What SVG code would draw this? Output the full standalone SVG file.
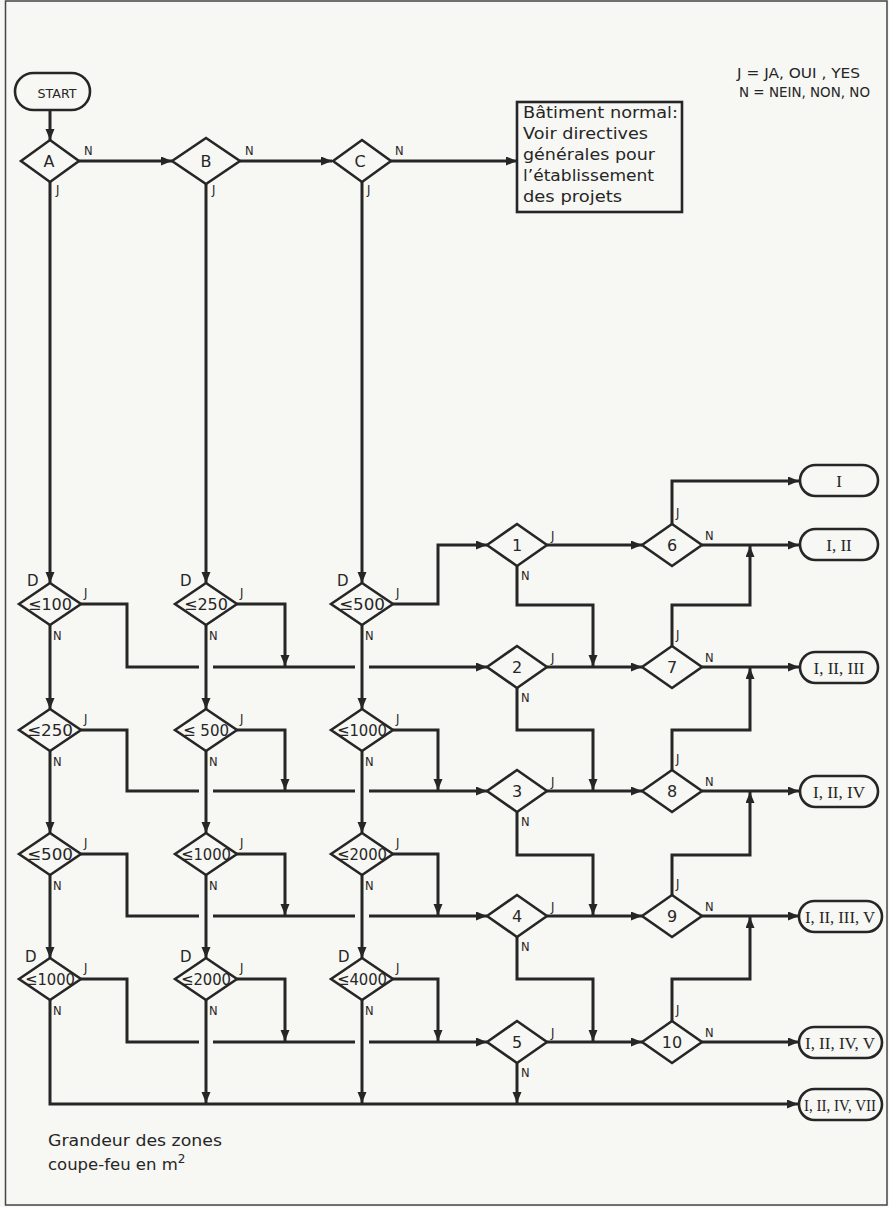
<svg xmlns="http://www.w3.org/2000/svg" width="889" height="1207" viewBox="0 0 889 1207">
<style>
.bg{fill:#f7f7f4}
.frame{fill:none;stroke:#444;stroke-width:1.5}
.shape{fill:#f7f7f4;stroke:#262626;stroke-width:2.6;stroke-linejoin:miter}
.conn path{fill:none;stroke:#262626;stroke-width:3;stroke-linejoin:miter}
.t{font-family:"DejaVu Sans","Liberation Sans",sans-serif;fill:#262626}
.yn{font-family:"DejaVu Sans","Liberation Sans",sans-serif;font-size:11.5px;fill:#262626}
.dt{font-family:"DejaVu Sans","Liberation Sans",sans-serif;font-size:16px;fill:#262626;text-anchor:middle}
.rn{font-family:"Liberation Serif",serif;font-size:17px;fill:#262626;text-anchor:middle}
</style>
<defs>
<marker id="ah" markerUnits="userSpaceOnUse" markerWidth="12" markerHeight="10" refX="11" refY="4.5" orient="auto">
<path d="M0,0 L11,4.5 L0,9 z" fill="#262626"/>
</marker>
</defs>
<rect class="bg" x="0" y="0" width="889" height="1207"/>
<rect class="frame" x="5.5" y="1" width="881.5" height="1204"/>

<g id="connectors" class="conn">
<path d="M50,110 V140" marker-end="url(#ah)"/>
<path d="M79,161 H172" marker-end="url(#ah)"/>
<path d="M240,161 H332" marker-end="url(#ah)"/>
<path d="M391,161 H517" marker-end="url(#ah)"/>
<path d="M50,182 V583" marker-end="url(#ah)"/>
<path d="M206,184 V583" marker-end="url(#ah)"/>
<path d="M362,182 V583" marker-end="url(#ah)"/>
<path d="M50,625 V709" marker-end="url(#ah)"/>
<path d="M206,625 V709" marker-end="url(#ah)"/>
<path d="M362,625 V709" marker-end="url(#ah)"/>
<path d="M50,751 V833" marker-end="url(#ah)"/>
<path d="M206,751 V833" marker-end="url(#ah)"/>
<path d="M362,751 V833" marker-end="url(#ah)"/>
<path d="M50,875 V958" marker-end="url(#ah)"/>
<path d="M206,875 V958" marker-end="url(#ah)"/>
<path d="M362,875 V958" marker-end="url(#ah)"/>
<path d="M50,1000 V1104 H798" marker-end="url(#ah)"/>
<path d="M206,1000 V1103" marker-end="url(#ah)"/>
<path d="M362,1000 V1103" marker-end="url(#ah)"/>
<!-- row 1 -->
<path d="M81,604 H127 V667 H199"/>
<path d="M213,667 H355"/>
<path d="M369,667 H487" marker-end="url(#ah)"/>
<path d="M237,604 H285 V666" marker-end="url(#ah)"/>
<path d="M393,604 H438 V545 H487" marker-end="url(#ah)"/>
<!-- row 2 -->
<path d="M81,730 H127 V791 H199"/>
<path d="M213,791 H355"/>
<path d="M369,791 H487" marker-end="url(#ah)"/>
<path d="M237,730 H285 V790" marker-end="url(#ah)"/>
<path d="M393,730 H438 V790" marker-end="url(#ah)"/>
<!-- row 3 -->
<path d="M81,854 H127 V916 H199"/>
<path d="M213,916 H355"/>
<path d="M369,916 H487" marker-end="url(#ah)"/>
<path d="M237,854 H285 V915" marker-end="url(#ah)"/>
<path d="M393,854 H438 V915" marker-end="url(#ah)"/>
<!-- row 4 -->
<path d="M81,979 H127 V1042 H199"/>
<path d="M213,1042 H355"/>
<path d="M369,1042 H487" marker-end="url(#ah)"/>
<path d="M237,979 H285 V1041" marker-end="url(#ah)"/>
<path d="M393,979 H438 V1041" marker-end="url(#ah)"/>
<!-- diamonds 1-5 -->
<path d="M547,545 H642" marker-end="url(#ah)"/>
<path d="M517,566 V605 H593 V666" marker-end="url(#ah)"/>
<path d="M547,667 H642" marker-end="url(#ah)"/>
<path d="M517,688 V730 H593 V790" marker-end="url(#ah)"/>
<path d="M547,791 H642" marker-end="url(#ah)"/>
<path d="M517,812 V855 H593 V915" marker-end="url(#ah)"/>
<path d="M547,916 H642" marker-end="url(#ah)"/>
<path d="M517,937 V979 H593 V1041" marker-end="url(#ah)"/>
<path d="M547,1042 H642" marker-end="url(#ah)"/>
<path d="M517,1063 V1103" marker-end="url(#ah)"/>
<!-- diamonds 6-10 -->
<path d="M672,524 V481 H799" marker-end="url(#ah)"/>
<path d="M702,545 H799" marker-end="url(#ah)"/>
<path d="M672,646 V605 H750 V546" marker-end="url(#ah)"/>
<path d="M702,667 H799" marker-end="url(#ah)"/>
<path d="M672,770 V730 H750 V668" marker-end="url(#ah)"/>
<path d="M702,791 H799" marker-end="url(#ah)"/>
<path d="M672,895 V855 H750 V792" marker-end="url(#ah)"/>
<path d="M702,916 H799" marker-end="url(#ah)"/>
<path d="M672,1021 V979 H750 V917" marker-end="url(#ah)"/>
<path d="M702,1042 H799" marker-end="url(#ah)"/>
</g>

<g id="start"><rect class="shape" x="15" y="73" width="75" height="37" rx="18.5"/><text class="t" x="57" y="98" font-size="12.5" text-anchor="middle" textLength="39" lengthAdjust="spacingAndGlyphs">START</text></g>

<g id="A"><polygon class="shape" points="21,161 50,140 79,161 50,182"/><text class="dt" x="49" y="167">A</text><text class="yn" x="84" y="155">N</text><text class="yn" x="56" y="194">J</text></g>
<g id="B"><polygon class="shape" points="172,161 206,138 240,161 206,184"/><text class="dt" x="206" y="167">B</text><text class="yn" x="245" y="155">N</text><text class="yn" x="212" y="194">J</text></g>
<g id="C"><polygon class="shape" points="333,161 362,140 391,161 362,182"/><text class="dt" x="360" y="167">C</text><text class="yn" x="395" y="155">N</text><text class="yn" x="367" y="194">J</text></g>

<g id="box"><rect class="shape" x="517" y="102" width="165" height="110"/>
<text class="t" font-size="16.5"><tspan x="523" y="118" textLength="155" lengthAdjust="spacingAndGlyphs">Bâtiment normal:</tspan><tspan x="523" y="139" textLength="125" lengthAdjust="spacingAndGlyphs">Voir directives</tspan><tspan x="523" y="160" textLength="132" lengthAdjust="spacingAndGlyphs">générales pour</tspan><tspan x="523" y="181" textLength="131" lengthAdjust="spacingAndGlyphs">l’établissement</tspan><tspan x="523" y="202" textLength="99" lengthAdjust="spacingAndGlyphs">des projets</tspan></text></g>

<g id="legend"><text class="t" font-size="14.5"><tspan x="737" y="78" textLength="123" lengthAdjust="spacingAndGlyphs">J = JA, OUI , YES</tspan><tspan x="739" y="97" textLength="131" lengthAdjust="spacingAndGlyphs">N = NEIN, NON, NO</tspan></text></g>

<!-- column diamonds -->
<g id="d11"><polygon class="shape" points="19,604 50,583 81,604 50,625"/><text class="dt" x="50" y="610" textLength="44" lengthAdjust="spacingAndGlyphs">≤100</text><text class="t" x="27" y="586" font-size="15">D</text><text class="yn" x="84" y="597">J</text><text class="yn" x="53" y="640">N</text></g>
<g id="d12"><polygon class="shape" points="175,604 206,583 237,604 206,625"/><text class="dt" x="206" y="610" textLength="44" lengthAdjust="spacingAndGlyphs">≤250</text><text class="t" x="180" y="586" font-size="15">D</text><text class="yn" x="240" y="597">J</text><text class="yn" x="209" y="640">N</text></g>
<g id="d13"><polygon class="shape" points="331,604 362,583 393,604 362,625"/><text class="dt" x="362" y="610" textLength="46" lengthAdjust="spacingAndGlyphs">≤500</text><text class="t" x="337" y="586" font-size="15">D</text><text class="yn" x="396" y="597">J</text><text class="yn" x="365" y="640">N</text></g>

<g id="d21"><polygon class="shape" points="19,730 50,709 81,730 50,751"/><text class="dt" x="50" y="736" textLength="46" lengthAdjust="spacingAndGlyphs">≤250</text><text class="yn" x="84" y="723">J</text><text class="yn" x="53" y="766">N</text></g>
<g id="d22"><polygon class="shape" points="175,730 206,709 237,730 206,751"/><text class="dt" x="206" y="736" textLength="46" lengthAdjust="spacingAndGlyphs">≤ 500</text><text class="yn" x="240" y="723">J</text><text class="yn" x="209" y="766">N</text></g>
<g id="d23"><polygon class="shape" points="331,730 362,709 393,730 362,751"/><text class="dt" x="362" y="736" textLength="50" lengthAdjust="spacingAndGlyphs">≤1000</text><text class="yn" x="396" y="723">J</text><text class="yn" x="365" y="766">N</text></g>

<g id="d31"><polygon class="shape" points="19,854 50,833 81,854 50,875"/><text class="dt" x="50" y="860" textLength="46" lengthAdjust="spacingAndGlyphs">≤500</text><text class="yn" x="84" y="847">J</text><text class="yn" x="53" y="890">N</text></g>
<g id="d32"><polygon class="shape" points="175,854 206,833 237,854 206,875"/><text class="dt" x="206" y="860" textLength="50" lengthAdjust="spacingAndGlyphs">≤1000</text><text class="yn" x="240" y="847">J</text><text class="yn" x="209" y="890">N</text></g>
<g id="d33"><polygon class="shape" points="331,854 362,833 393,854 362,875"/><text class="dt" x="362" y="860" textLength="50" lengthAdjust="spacingAndGlyphs">≤2000</text><text class="yn" x="396" y="847">J</text><text class="yn" x="365" y="890">N</text></g>

<g id="d41"><polygon class="shape" points="19,979 50,958 81,979 50,1000"/><text class="dt" x="50" y="985" textLength="50" lengthAdjust="spacingAndGlyphs">≤1000</text><text class="t" x="25" y="962" font-size="15">D</text><text class="yn" x="84" y="972">J</text><text class="yn" x="53" y="1015">N</text></g>
<g id="d42"><polygon class="shape" points="175,979 206,958 237,979 206,1000"/><text class="dt" x="206" y="985" textLength="50" lengthAdjust="spacingAndGlyphs">≤2000</text><text class="t" x="180" y="962" font-size="15">D</text><text class="yn" x="240" y="972">J</text><text class="yn" x="209" y="1015">N</text></g>
<g id="d43"><polygon class="shape" points="331,979 362,958 393,979 362,1000"/><text class="dt" x="362" y="985" textLength="50" lengthAdjust="spacingAndGlyphs">≤4000</text><text class="t" x="338" y="962" font-size="15">D</text><text class="yn" x="396" y="972">J</text><text class="yn" x="365" y="1015">N</text></g>

<!-- middle diamonds 1-5 -->
<g id="n1"><polygon class="shape" points="487,545 517,524 547,545 517,566"/><text class="dt" x="517" y="551">1</text><text class="yn" x="551" y="540">J</text><text class="yn" x="521" y="580">N</text></g>
<g id="n2"><polygon class="shape" points="487,667 517,646 547,667 517,688"/><text class="dt" x="517" y="673">2</text><text class="yn" x="551" y="662">J</text><text class="yn" x="521" y="702">N</text></g>
<g id="n3"><polygon class="shape" points="487,791 517,770 547,791 517,812"/><text class="dt" x="517" y="797">3</text><text class="yn" x="551" y="786">J</text><text class="yn" x="521" y="826">N</text></g>
<g id="n4"><polygon class="shape" points="487,916 517,895 547,916 517,937"/><text class="dt" x="517" y="922">4</text><text class="yn" x="551" y="911">J</text><text class="yn" x="521" y="951">N</text></g>
<g id="n5"><polygon class="shape" points="487,1042 517,1021 547,1042 517,1063"/><text class="dt" x="517" y="1048">5</text><text class="yn" x="551" y="1037">J</text><text class="yn" x="521" y="1077">N</text></g>

<!-- right diamonds 6-10 -->
<g id="n6"><polygon class="shape" points="642,545 672,524 702,545 672,566"/><text class="dt" x="672" y="551">6</text><text class="yn" x="676" y="517">J</text><text class="yn" x="705" y="540">N</text></g>
<g id="n7"><polygon class="shape" points="642,667 672,646 702,667 672,688"/><text class="dt" x="672" y="673">7</text><text class="yn" x="676" y="639">J</text><text class="yn" x="705" y="662">N</text></g>
<g id="n8"><polygon class="shape" points="642,791 672,770 702,791 672,812"/><text class="dt" x="672" y="797">8</text><text class="yn" x="676" y="763">J</text><text class="yn" x="705" y="786">N</text></g>
<g id="n9"><polygon class="shape" points="642,916 672,895 702,916 672,937"/><text class="dt" x="672" y="922">9</text><text class="yn" x="676" y="888">J</text><text class="yn" x="705" y="911">N</text></g>
<g id="n10"><polygon class="shape" points="642,1042 672,1021 702,1042 672,1063"/><text class="dt" x="672" y="1048">10</text><text class="yn" x="676" y="1014">J</text><text class="yn" x="705" y="1037">N</text></g>

<!-- terminators -->
<g id="o1"><rect class="shape" x="800" y="465" width="78" height="31" rx="15.5"/><text class="rn" x="839" y="487">I</text></g>
<g id="o2"><rect class="shape" x="800" y="529" width="78" height="31" rx="15.5"/><text class="rn" x="839" y="551">I, II</text></g>
<g id="o3"><rect class="shape" x="800" y="652" width="78" height="31" rx="15.5"/><text class="rn" x="839" y="674">I, II, III</text></g>
<g id="o4"><rect class="shape" x="800" y="776" width="78" height="31" rx="15.5"/><text class="rn" x="839" y="798">I, II, IV</text></g>
<g id="o5"><rect class="shape" x="799" y="901" width="83" height="31" rx="15.5"/><text class="rn" x="840" y="923" textLength="70" lengthAdjust="spacingAndGlyphs">I, II, III, V</text></g>
<g id="o6"><rect class="shape" x="799" y="1027" width="83" height="31" rx="15.5"/><text class="rn" x="840" y="1049" textLength="70" lengthAdjust="spacingAndGlyphs">I, II, IV, V</text></g>
<g id="o7"><rect class="shape" x="799" y="1089" width="83" height="31" rx="15.5"/><text class="rn" x="840" y="1111" textLength="72" lengthAdjust="spacingAndGlyphs">I, II, IV, VII</text></g>

<g id="caption"><text class="t" font-size="16.5"><tspan x="48" y="1146" textLength="174" lengthAdjust="spacingAndGlyphs">Grandeur des zones</tspan><tspan x="48" y="1170">coupe-feu en m</tspan><tspan dy="-7" font-size="12">2</tspan></text></g>
</svg>
